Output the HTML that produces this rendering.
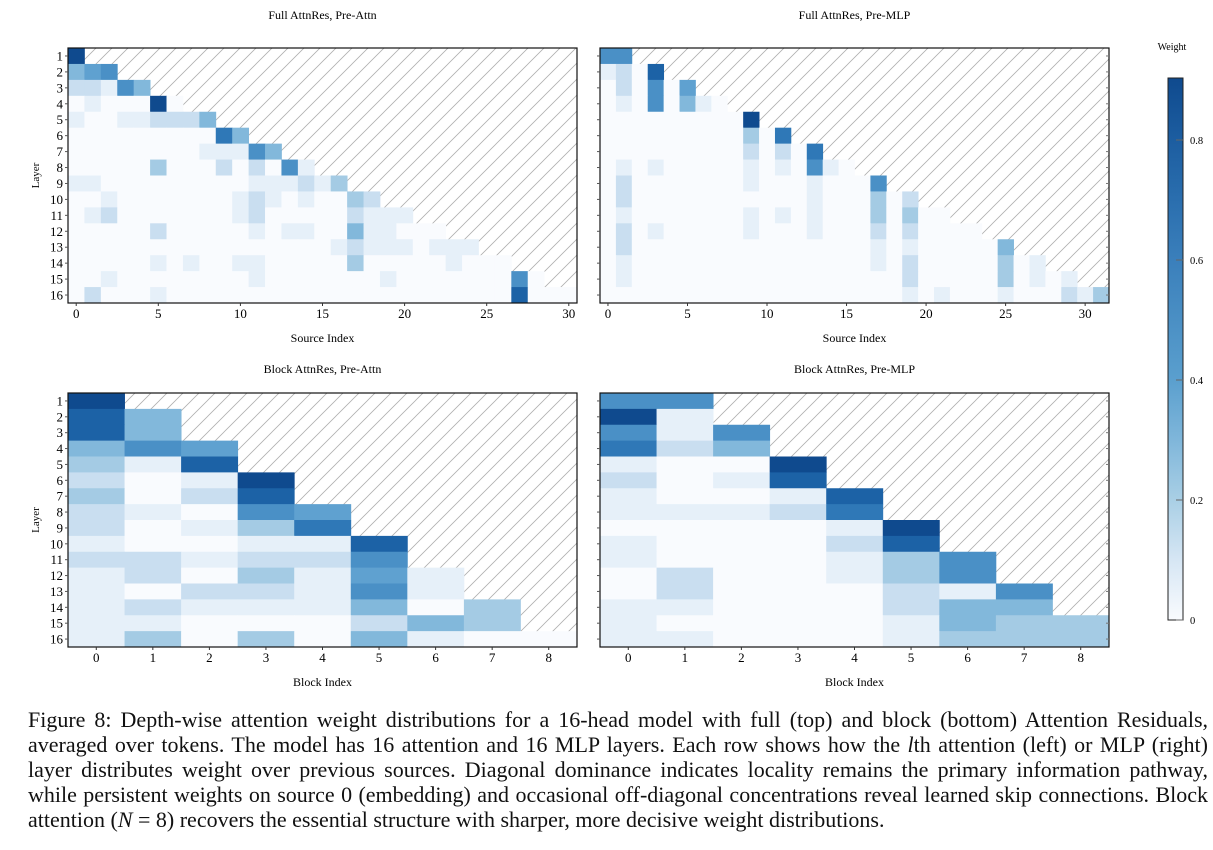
<!DOCTYPE html>
<html><head><meta charset="utf-8">
<style>
html,body{margin:0;padding:0;background:#fff;}
body{width:1213px;height:850px;position:relative;overflow:hidden;font-family:"Liberation Serif",serif;}
svg{position:absolute;left:0;top:0;}
.cap{position:absolute;left:28px;width:1180px;font-size:22px;line-height:25px;text-align:justify;text-align-last:justify;white-space:nowrap;color:#111;}
.cap.last{text-align-last:left;}
</style></head>
<body>
<svg id="s" width="1213" height="700" viewBox="0 0 1213 700" xmlns="http://www.w3.org/2000/svg" font-family="Liberation Serif, serif"></svg>
<div class="cap" style="top:707px">Figure 8: Depth-wise attention weight distributions for a 16-head model with full (top) and block (bottom) Attention Residuals,</div>
<div class="cap" style="top:732px">averaged over tokens. The model has 16 attention and 16 MLP layers. Each row shows how the <i>l</i>th attention (left) or MLP (right)</div>
<div class="cap" style="top:757px">layer distributes weight over previous sources. Diagonal dominance indicates locality remains the primary information pathway,</div>
<div class="cap" style="top:782px">while persistent weights on source 0 (embedding) and occasional off-diagonal concentrations reveal learned skip connections. Block</div>
<div class="cap last" style="top:807px">attention (<i>N</i> = 8) recovers the essential structure with sharper, more decisive weight distributions.</div>
<script>
var C=["#f9fbfe","#e6f0f9","#c9def0","#a4cbe4","#82b8db","#5fa1d0","#4a90c6","#2f78b7","#1c62a6","#0f4a8e"];
var TL=[[9],[4,5,6],[2,2,1,6,4],[0,1,0,0,0,9,0],[1,0,0,1,1,2,2,2,4],[0,0,0,0,0,0,0,0,0,7,4],
[0,0,0,0,0,0,0,0,1,1,1,6,4],[0,0,0,0,0,3,0,0,0,2,0,2,0,6,1],[1,1,0,0,0,0,0,0,0,0,0,1,1,1,2,1,3],
[0,0,1,0,0,0,0,0,0,0,1,2,1,0,1,0,0,3,2],[0,1,2,0,0,0,0,0,0,0,1,2,0,0,0,0,0,2,1,1,1],
[0,0,0,0,0,2,0,0,0,0,0,1,0,1,1,0,0,4,1,1,0,0,0],[0,0,0,0,0,0,0,0,0,0,0,0,0,0,0,0,1,2,1,1,1,0,1,1,1],
[0,0,0,0,0,1,0,1,0,0,1,1,0,0,0,0,0,3,0,0,0,0,0,1,0,0,0],[0,0,1,0,0,0,0,0,0,0,0,1,0,0,0,0,0,0,0,1,0,0,0,0,0,0,0,6,0],
[0,2,0,0,0,1,0,0,0,0,0,0,0,0,0,0,0,0,0,0,0,0,0,0,0,0,0,8,0,0,0]];
var TR=[[6,6],[1,2,0,8],[0,2,0,6,0,5],[0,1,0,6,0,4,1,0],[0,0,0,0,0,0,0,0,0,9],[0,0,0,0,0,0,0,0,0,3,0,7],
[0,0,0,0,0,0,0,0,0,2,0,2,0,7],[0,1,0,1,0,0,0,0,0,1,0,1,0,6,1,0],[0,2,0,0,0,0,0,0,0,1,0,0,0,1,0,0,0,6],
[0,2,0,0,0,0,0,0,0,0,0,0,0,1,0,0,0,3,0,2],[0,1,0,0,0,0,0,0,0,1,0,1,0,1,0,0,0,3,0,3,0,0],
[0,2,0,1,0,0,0,0,0,1,0,0,0,1,0,0,0,2,0,2,0,0,0,0],[0,2,0,0,0,0,0,0,0,0,0,0,0,0,0,0,0,1,0,1,0,0,0,0,0,4],
[0,1,0,0,0,0,0,0,0,0,0,0,0,0,0,0,0,1,0,2,0,0,0,0,0,3,0,1],[0,1,0,0,0,0,0,0,0,0,0,0,0,0,0,0,0,0,0,2,0,0,0,0,0,3,0,1,0,1],
[0,0,0,0,0,0,0,0,0,0,0,0,0,0,0,0,0,0,0,1,0,1,0,0,0,1,0,0,0,2,1,3]];
var BL=[[9],[8,4],[8,4],[4,6,5],[3,1,8],[2,0,1,9],[3,0,2,8],[2,1,0,6,5],[2,0,1,3,7],[1,0,0,1,1,8],[2,2,1,2,2,6],
[1,2,0,3,1,5,1],[1,0,2,2,1,6,1],[1,2,1,1,1,4,0,3],[1,1,0,0,0,2,4,3],[1,3,0,3,0,4,1,0,0]];
var BR=[[6,6],[9,1],[6,1,6],[7,2,4],[1,0,0,9],[2,0,1,8],[1,0,0,1,8],[1,1,1,2,7],[0,0,0,0,1,9],[1,0,0,0,2,8],
[1,0,0,0,1,3,6],[0,2,0,0,1,3,6],[0,2,0,0,0,2,1,6],[1,1,0,0,0,2,4,4],[1,0,0,0,0,1,4,3,3],[1,1,0,0,0,1,3,3,3]];
var h='<defs><pattern id="hat" patternUnits="userSpaceOnUse" width="16" height="16"><line x1="0" y1="16" x2="16" y2="0" stroke="#b0b0b0" stroke-width="0.8"/><line x1="-4" y1="4" x2="4" y2="-4" stroke="#b0b0b0" stroke-width="0.8"/><line x1="12" y1="20" x2="20" y2="12" stroke="#b0b0b0" stroke-width="0.8"/></pattern>'+
'<linearGradient id="cb" x1="0" y1="1" x2="0" y2="0"><stop offset="0" stop-color="#f9fbfe"/><stop offset="0.111" stop-color="#d6e6f4"/><stop offset="0.222" stop-color="#a9cfe5"/><stop offset="0.333" stop-color="#7fb6da"/><stop offset="0.444" stop-color="#5a9fce"/><stop offset="0.555" stop-color="#4a8fc4"/><stop offset="0.666" stop-color="#3a7fbb"/><stop offset="0.777" stop-color="#2a6eae"/><stop offset="0.888" stop-color="#1c5da0"/><stop offset="1" stop-color="#0f4a8e"/></linearGradient></defs>';
function panel(data,ncol,x0,x1,y0,y1,title,ty0,xl,ticks,ylab){
 var cw=(x1-x0)/ncol,rh=(y1-y0)/16,s='';
 s+='<rect x="'+x0+'" y="'+y0+'" width="'+(x1-x0)+'" height="'+(y1-y0)+'" fill="url(#hat)"/>';
 for(var r=0;r<16;r++){var row=data[r];
  for(var c=0;c<row.length;c++){s+='<rect x="'+(x0+c*cw).toFixed(2)+'" y="'+(y0+r*rh).toFixed(2)+'" width="'+(cw+0.4).toFixed(2)+'" height="'+(rh+0.4).toFixed(2)+'" fill="'+C[row[c]]+'"/>';}}
 s+='<rect x="'+x0+'" y="'+y0+'" width="'+(x1-x0)+'" height="'+(y1-y0)+'" fill="none" stroke="#111" stroke-width="1.2"/>';
 for(var i=0;i<ticks.length;i++){var tx=x0+(ticks[i]+0.5)*cw;
  s+='<line x1="'+tx+'" y1="'+y1+'" x2="'+tx+'" y2="'+(y1+3)+'" stroke="#333"/>';
  s+='<text x="'+tx+'" y="'+(y1+15)+'" font-size="13" text-anchor="middle">'+ticks[i]+'</text>';}
 for(var r=0;r<16;r++){var ty=y0+(r+0.5)*rh;
  s+='<line x1="'+(x0-3)+'" y1="'+ty+'" x2="'+x0+'" y2="'+ty+'" stroke="#555"/>';
  if(!ylab) s+='<line x1="'+(x1-3)+'" y1="'+ty+'" x2="'+x1+'" y2="'+ty+'" stroke="#777"/>';
  if(ylab) s+='<text x="'+(x0-5)+'" y="'+(ty+4.5)+'" font-size="13" text-anchor="end">'+(r+1)+'</text>';}
 var cx=(x0+x1)/2;
 s+='<text x="'+cx+'" y="'+ty0+'" font-size="12" text-anchor="middle">'+title+'</text>';
 s+='<text x="'+cx+'" y="'+(y1+39)+'" font-size="12" text-anchor="middle">'+xl+'</text>';
 if(ylab){var my=(y0+y1)/2;s+='<text x="0" y="0" font-size="11" text-anchor="middle" transform="translate(39,'+my+') rotate(-90)">Layer</text>';}
 return s;}
h+=panel(TL,31,68,577,48,303,'Full AttnRes, Pre-Attn',19,'Source Index',[0,5,10,15,20,25,30],true);
h+=panel(TR,32,600,1109,48,303,'Full AttnRes, Pre-MLP',19,'Source Index',[0,5,10,15,20,25,30],false);
h+=panel(BL,9,68,577,393,647,'Block AttnRes, Pre-Attn',373,'Block Index',[0,1,2,3,4,5,6,7,8],true);
h+=panel(BR,9,600,1109,393,647,'Block AttnRes, Pre-MLP',373,'Block Index',[0,1,2,3,4,5,6,7,8],false);
h+='<rect x="1168" y="78" width="15" height="542" fill="url(#cb)" stroke="#222" stroke-width="1"/>';
var tk=[[0,'0'],[0.2,'0.2'],[0.4,'0.4'],[0.6,'0.6'],[0.8,'0.8']];
for(var i=0;i<tk.length;i++){var y=620-tk[i][0]*600;
 h+='<line x1="1176" y1="'+y+'" x2="1183" y2="'+y+'" stroke="#666"/>';
 h+='<text x="1190" y="'+(y+4)+'" font-size="10.5">'+tk[i][1]+'</text>';}
h+='<text x="1172" y="50" font-size="10" text-anchor="middle">Weight</text>';
document.getElementById('s').innerHTML=h;
</script>
</body></html>
